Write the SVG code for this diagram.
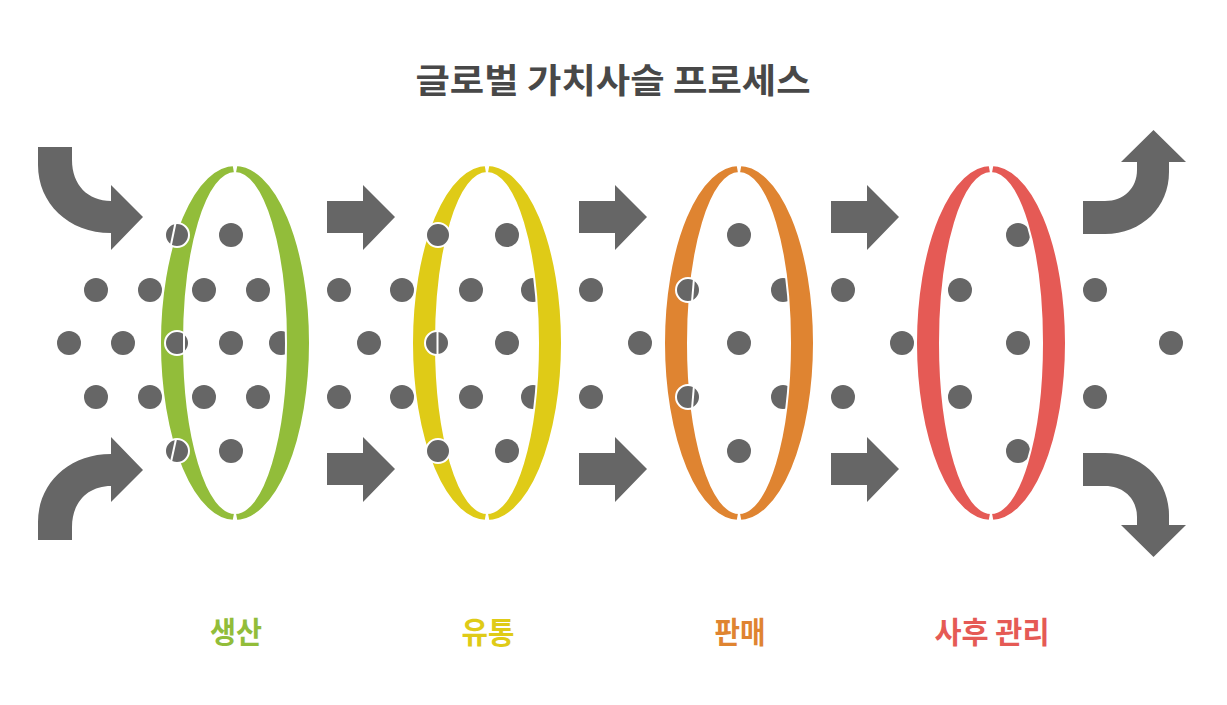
<svg xmlns="http://www.w3.org/2000/svg" width="1227" height="705" viewBox="0 0 1227 705">
<style>
.dot{fill:#666666}
.bdot{fill:#666666;stroke:#ffffff;stroke-width:2}
.cut{stroke:#ffffff;stroke-width:2;fill:none}
.ring{stroke:#ffffff;stroke-width:2;fill-rule:evenodd}
.gap{fill:#ffffff}
.arrow{fill:#666666}
.title{font-family:"Noto Sans CJK KR","Noto Sans",sans-serif;font-weight:bold;font-size:34px;fill:#484848;text-anchor:middle}
.label{font-family:"Noto Sans CJK KR","Noto Sans",sans-serif;font-weight:bold;font-size:30px;text-anchor:middle}
</style>
<rect width="1227" height="705" fill="#ffffff"/>
<g id="title"><text class="title" x="613" y="93" textLength="395" lengthAdjust="spacingAndGlyphs">글로벌 가치사슬 프로세스</text></g>

<g id="particles">
<circle class="dot" cx="231" cy="235" r="12"/><circle class="dot" cx="507" cy="235" r="12"/><circle class="dot" cx="739" cy="235" r="12"/><circle class="dot" cx="1018" cy="235" r="12"/>
<circle class="dot" cx="96" cy="290" r="12"/><circle class="dot" cx="150" cy="290" r="12"/><circle class="dot" cx="204" cy="290" r="12"/><circle class="dot" cx="258" cy="290" r="12"/><circle class="dot" cx="339" cy="290" r="12"/><circle class="dot" cx="402" cy="290" r="12"/><circle class="dot" cx="471" cy="290" r="12"/><circle class="dot" cx="533" cy="290" r="12"/><circle class="dot" cx="591" cy="290" r="12"/><circle class="dot" cx="783" cy="290" r="12"/><circle class="dot" cx="843" cy="290" r="12"/><circle class="dot" cx="960" cy="290" r="12"/><circle class="dot" cx="1095" cy="290" r="12"/>
<circle class="dot" cx="69" cy="343" r="12"/><circle class="dot" cx="123" cy="343" r="12"/><circle class="dot" cx="231" cy="343" r="12"/><circle class="dot" cx="281" cy="343" r="12"/><circle class="dot" cx="369" cy="343" r="12"/><circle class="dot" cx="507" cy="343" r="12"/><circle class="dot" cx="640" cy="343" r="12"/><circle class="dot" cx="739" cy="343" r="12"/><circle class="dot" cx="902" cy="343" r="12"/><circle class="dot" cx="1018" cy="343" r="12"/><circle class="dot" cx="1171" cy="343" r="12"/>
<circle class="dot" cx="96" cy="397" r="12"/><circle class="dot" cx="150" cy="397" r="12"/><circle class="dot" cx="204" cy="397" r="12"/><circle class="dot" cx="258" cy="397" r="12"/><circle class="dot" cx="339" cy="397" r="12"/><circle class="dot" cx="402" cy="397" r="12"/><circle class="dot" cx="471" cy="397" r="12"/><circle class="dot" cx="533" cy="397" r="12"/><circle class="dot" cx="591" cy="397" r="12"/><circle class="dot" cx="783" cy="397" r="12"/><circle class="dot" cx="843" cy="397" r="12"/><circle class="dot" cx="960" cy="397" r="12"/><circle class="dot" cx="1095" cy="397" r="12"/>
<circle class="dot" cx="231" cy="451" r="12"/><circle class="dot" cx="507" cy="451" r="12"/><circle class="dot" cx="739" cy="451" r="12"/><circle class="dot" cx="1018" cy="451" r="12"/>
</g>

<g id="stage-production">
<path class="ring" fill="#92bd3a" d="M160,343 A75,178 0 1 0 310,343 A75,178 0 1 0 160,343 Z M184,343 A51,170 0 1 0 286,343 A51,170 0 1 0 184,343 Z"/>
<polygon class="gap" points="232,162 238,162 235.6,175 234.4,175"/>
<polygon class="gap" points="232,524 238,524 235.6,511 234.4,511"/>
<circle class="bdot" cx="177" cy="235" r="12"/><line class="cut" x1="175.5" y1="223" x2="170.5" y2="247"/>
<circle class="bdot" cx="177" cy="343" r="12"/><line class="cut" x1="184" y1="332" x2="184" y2="354"/>
<circle class="bdot" cx="177" cy="451" r="12"/><line class="cut" x1="176" y1="439" x2="171" y2="462"/>
<text class="label" x="236" y="643" fill="#92bd3a" textLength="52" lengthAdjust="spacingAndGlyphs">생산</text>
</g>

<g id="stage-distribution">
<path class="ring" fill="#dfcb17" d="M412,343 A75,178 0 1 0 562,343 A75,178 0 1 0 412,343 Z M436,343 A51,170 0 1 0 538,343 A51,170 0 1 0 436,343 Z"/>
<polygon class="gap" points="484,162 490,162 487.6,175 486.4,175"/>
<polygon class="gap" points="484,524 490,524 487.6,511 486.4,511"/>
<circle class="bdot" cx="438" cy="235" r="12"/>
<circle class="bdot" cx="437" cy="343" r="12"/><line class="cut" x1="437.5" y1="331" x2="437.5" y2="355"/>
<circle class="bdot" cx="438" cy="451" r="12"/>
<text class="label" x="488" y="643" fill="#dfcb17" textLength="53" lengthAdjust="spacingAndGlyphs">유통</text>
</g>

<g id="stage-sales">
<path class="ring" fill="#df8431" d="M664,343 A75,178 0 1 0 814,343 A75,178 0 1 0 664,343 Z M688,343 A51,170 0 1 0 790,343 A51,170 0 1 0 688,343 Z"/>
<polygon class="gap" points="736,162 742,162 739.6,175 738.4,175"/>
<polygon class="gap" points="736,524 742,524 739.6,511 738.4,511"/>
<circle class="bdot" cx="688" cy="290" r="12"/><line class="cut" x1="694" y1="278" x2="692" y2="302"/>
<circle class="bdot" cx="688" cy="397" r="12"/><line class="cut" x1="694" y1="385" x2="692" y2="409"/>
<text class="label" x="740" y="643" fill="#df8431" textLength="51" lengthAdjust="spacingAndGlyphs">판매</text>
</g>

<g id="stage-aftercare">
<path class="ring" fill="#e55a55" d="M916,343 A75,178 0 1 0 1066,343 A75,178 0 1 0 916,343 Z M940,343 A51,170 0 1 0 1042,343 A51,170 0 1 0 940,343 Z"/>
<polygon class="gap" points="988,162 994,162 991.6,175 990.4,175"/>
<polygon class="gap" points="988,524 994,524 991.6,511 990.4,511"/>
<text class="label" x="992" y="643" fill="#e55a55" textLength="115" lengthAdjust="spacingAndGlyphs">사후 관리</text>
</g>

<g id="connectors">
<path class="arrow" d="M38,147 H72 V160 C72,185 88,201 111,201 V185 L143,217 L111,250 V233 C68,233 38,203 38,165 Z"/>
<path class="arrow" d="M38,540 H72 V527 C72,502 88,486 111,486 V502 L143,470 L111,437 V454 C68,454 38,484 38,522 Z"/>
<path class="arrow" d="M327,201 H363 V185 L395,217 L363,250 V233 H327 Z"/>
<path class="arrow" d="M327,453 H363 V437 L395,469 L363,502 V485 H327 Z"/>
<path class="arrow" d="M579,201 H615 V185 L647,217 L615,250 V233 H579 Z"/>
<path class="arrow" d="M579,453 H615 V437 L647,469 L615,502 V485 H579 Z"/>
<path class="arrow" d="M831,201 H867 V185 L899,217 L867,250 V233 H831 Z"/>
<path class="arrow" d="M831,453 H867 V437 L899,469 L867,502 V485 H831 Z"/>
<path class="arrow" d="M1083,201 H1105 C1124,201 1137,188 1137,170 V162 H1121 L1153.5,130 L1186,162 H1169 V172 C1169,207 1142,234 1105,234 H1083 Z"/>
<path class="arrow" d="M1083,486 H1105 C1124,486 1137,499 1137,517 V525 H1121 L1153.5,557 L1186,525 H1169 V515 C1169,480 1142,453 1105,453 H1083 Z"/>
</g>
</svg>
